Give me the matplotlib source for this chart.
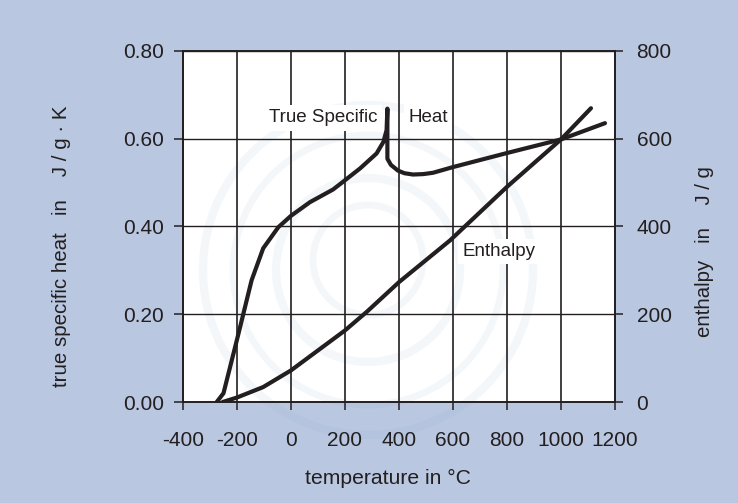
from __future__ import annotations

import matplotlib

matplotlib.use("Agg")

import matplotlib.pyplot as plt
from matplotlib.patches import Circle
from matplotlib.transforms import IdentityTransform

BG = "#b9c7e0"
INK = "#231f20"

HEAT_T = [-275, -250, -196, -146, -103, -47, 0, 70, 156, 200, 256, 317, 342, 354, 357,
          357, 370, 396, 420, 452, 490, 526, 600, 800, 1000, 1163]
HEAT_CP = [0.0, 0.02, 0.152, 0.277, 0.35, 0.398, 0.424, 0.455, 0.484, 0.505, 0.532, 0.566,
           0.592, 0.619, 0.668, 0.554, 0.54, 0.527, 0.521, 0.518, 0.519, 0.522, 0.535, 0.567, 0.598, 0.635]
ENTH_T = [-253, -201, -103, 0, 200, 280, 400, 589, 800, 1000, 1111]
ENTH_H = [0, 10, 34, 72, 163, 205, 273, 368, 490, 598, 669]

X_TICKS = [-400, -200, 0, 200, 400, 600, 800, 1000, 1200]
Y_TICKS = [0.0, 0.2, 0.4, 0.6, 0.8]
Y2_TICKS = [0, 200, 400, 600, 800]


def add_watermark(ax) -> None:
    # faint seal behind the chart, pixel coordinates with origin at bottom left
    for cx, cy, r, lw in [
        (368, 233, 165, 6),
        (368, 233, 135, 5),
        (368, 233, 92, 6),
        (368, 243, 55, 5),
    ]:
        ax.add_patch(Circle((cx, cy), r, fill=False, edgecolor="#7f9cc8", alpha=0.08, linewidth=lw,
                            transform=IdentityTransform(), clip_on=False, zorder=0.5))


def main() -> None:
    plt.rcParams["font.family"] = ["Liberation Sans", "DejaVu Sans"]
    plt.rcParams["font.size"] = 15

    fig = plt.figure(figsize=(7.38, 5.03), dpi=100, facecolor=BG)
    ax = fig.add_axes([183 / 738, 1 - 402 / 503, (615 - 183) / 738, (402 - 50.7) / 503])
    ax.set_facecolor("white")
    add_watermark(ax)

    ax.set_xlim(-400, 1200)
    ax.set_ylim(0, 0.8)
    ax.set_xticks(X_TICKS)
    ax.set_xticklabels([str(v) for v in X_TICKS])
    ax.set_yticks(Y_TICKS)
    ax.set_yticklabels([f"{v:.2f}" for v in Y_TICKS])
    ax.grid(True, axis="x", color=INK, linewidth=1.2, zorder=1)
    ax.grid(True, axis="y", color=INK, linewidth=1.0, zorder=1)
    ax.set_axisbelow(True)
    ax.tick_params(axis="x", length=6, width=1.1, color=INK, labelcolor=INK, pad=15)
    ax.tick_params(axis="y", length=6.2, width=1.1, color=INK, labelcolor=INK, pad=7.5)
    for spine in ax.spines.values():
        spine.set_color(INK)
        spine.set_linewidth(1.2)

    ax.plot(HEAT_T, HEAT_CP, color=INK, linewidth=3.0, solid_capstyle="round", solid_joinstyle="round", zorder=3)

    ax2 = ax.twinx()
    ax2.set_ylim(0, 800)
    ax2.set_yticks(Y2_TICKS)
    ax2.tick_params(length=6, width=1.1, color=INK, labelcolor=INK, pad=9.5)
    for spine in ax2.spines.values():
        spine.set_color(INK)
        spine.set_linewidth(1.2)
    ax2.plot(ENTH_T, ENTH_H, color=INK, linewidth=3.0, solid_capstyle="round", solid_joinstyle="round", zorder=3)

    box = dict(facecolor="white", edgecolor="none", pad=3)
    ax.text(120, 0.647, "True Specific", ha="center", va="center", fontsize=13.5, color=INK, bbox=box, zorder=2)
    ax.text(507, 0.647, "Heat", ha="center", va="center", fontsize=13.5, color=INK, bbox=box, zorder=2)
    ax.text(770, 0.343, "Enthalpy", ha="center", va="center", fontsize=13.5, color=INK, bbox=box, zorder=2)

    fig.text(388 / 738, 1 - 478 / 503, "temperature in °C", ha="center", va="center", color=INK, fontsize=15.2)
    fig.text(62 / 738, 1 - 246 / 503, "true specific heat   in    J / g · K", rotation=90, ha="center",
             va="center", color=INK, fontsize=14.8)
    fig.text(705 / 738, 1 - 252 / 503, "enthalpy   in    J / g", rotation=90, ha="center", va="center",
             color=INK, fontsize=14.7)

    fig.savefig("out.png", dpi=100, facecolor=BG)
    plt.close(fig)


if __name__ == "__main__":
    main()
